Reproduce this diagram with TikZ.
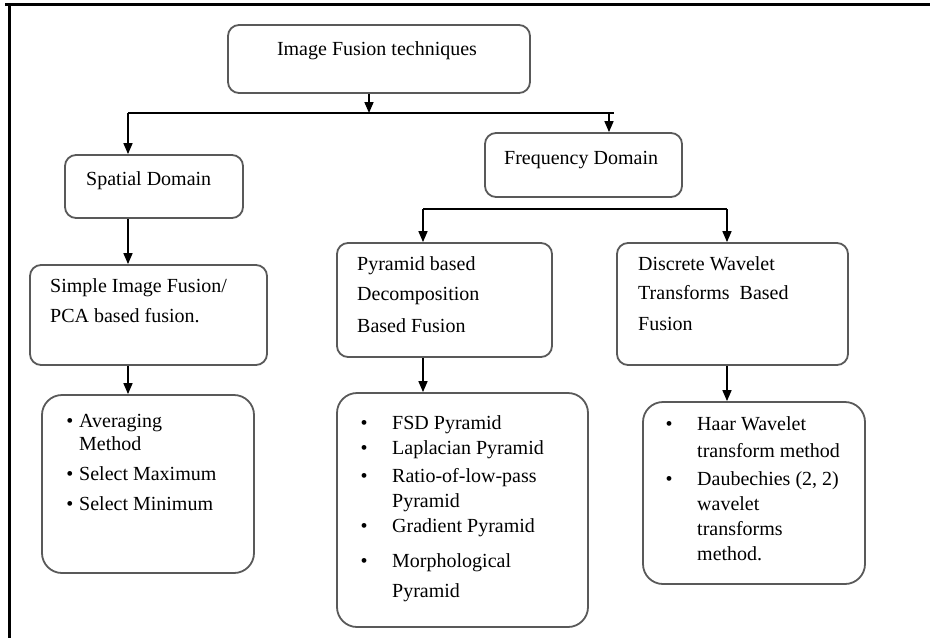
\documentclass[tikz,border=0pt]{standalone}
\usepackage{fontspec}
\setmainfont{Liberation Serif}
\usetikzlibrary{arrows.meta}
\begin{document}
\begin{tikzpicture}[x=1pt,y=-1pt,
  box/.style={draw=black!65, line width=1.8pt, rounded corners=11pt, inner sep=0pt},
  bigbox/.style={box, rounded corners=20pt},
  ln/.style={anchor=mid west, inner sep=0pt, font=\fontsize{20}{24}\selectfont},
  dot/.style={anchor=mid, inner sep=0pt, font=\fontsize{20}{24}\selectfont},
  conn/.style={draw=black, line width=1.6pt},
  arr/.style={conn, -{Triangle[length=11pt,width=9pt]}},
  frame/.style={line width=3pt}]
\useasboundingbox (0,0) rectangle (930,638);
% outer frame: top and left rules only
\draw[frame] (5,4) -- (930,4);
\draw[frame] (9,4) -- (9,638);

% boxes
\node[box, minimum width=302pt, minimum height=68pt] (top) at (379,59) {};
\node[box, minimum width=178pt, minimum height=63pt] (spatial) at (154,186.5) {};
\node[box, minimum width=197pt, minimum height=64pt] (freq) at (583.5,165) {};
\node[box, minimum width=237pt, minimum height=100pt] (simple) at (148.5,315) {};
\node[bigbox, minimum width=212pt, minimum height=178pt] (listA) at (148,484) {};
\node[box, minimum width=215pt, minimum height=114pt] (pyr) at (444.5,300) {};
\node[bigbox, minimum width=251pt, minimum height=234pt] (listB) at (462.5,510) {};
\node[box, minimum width=231pt, minimum height=122pt] (dwt) at (732.5,304) {};
\node[bigbox, minimum width=222pt, minimum height=182pt] (listC) at (754,493) {};

% box titles
\node[ln, anchor=mid] (tTop) at (377,53) {Image Fusion techniques};
\node[ln] (tSp) at (86,183) {Spatial Domain};
\node[ln] (tFr) at (504,162) {Frequency Domain};
\node[ln] (tSi1) at (50,290) {Simple Image Fusion/};
\node[ln] (tSi2) at (50,320) {PCA based fusion.};
\node[ln] (tPy1) at (357,268) {Pyramid based};
\node[ln] (tPy2) at (357,298) {Decomposition};
\node[ln] (tPy3) at (357,330) {Based Fusion};
\node[ln] (tDw1) at (638,268) {Discrete Wavelet};
\node[ln] (tDw2) at (638,297) {Transforms\ \ Based};
\node[ln] (tDw3) at (638,328) {Fusion};

% spatial-domain methods
\node[dot] (bA1) at (70,425) {•};
\node[ln] (iA1a) at (79,425) {Averaging};
\node[ln] (iA1b) at (79,448) {Method};
\node[dot] (bA2) at (70,478) {•};
\node[ln] (iA2) at (79,478) {Select Maximum};
\node[dot] (bA3) at (70,508) {•};
\node[ln] (iA3) at (79,508) {Select Minimum};

% pyramid methods
\node[dot] (bB1) at (364,427) {•};
\node[ln] (iB1) at (392,427) {FSD Pyramid};
\node[dot] (bB2) at (364,452) {•};
\node[ln] (iB2) at (392,452) {Laplacian Pyramid};
\node[dot] (bB3) at (364,480) {•};
\node[ln] (iB3a) at (392,480) {Ratio-of-low-pass};
\node[ln] (iB3b) at (392,505) {Pyramid};
\node[dot] (bB4) at (364,530) {•};
\node[ln] (iB4) at (392,530) {Gradient Pyramid};
\node[dot] (bB5) at (364,565) {•};
\node[ln] (iB5a) at (392,565) {Morphological};
\node[ln] (iB5b) at (392,595) {Pyramid};

% wavelet methods
\node[dot] (bC1) at (669,428) {•};
\node[ln] (iC1a) at (697,428) {Haar Wavelet};
\node[ln] (iC1b) at (697,455) {transform method};
\node[dot] (bC2) at (669,483) {•};
\node[ln] (iC2a) at (697,483) {Daubechies (2, 2)};
\node[ln] (iC2b) at (697,508) {wavelet};
\node[ln] (iC2c) at (697,533) {transforms};
\node[ln] (iC2d) at (697,558) {method.};

% junction points of the tree
\coordinate (j1) at (369,113);
\coordinate (jl) at (128,113);
\coordinate (jr) at (614,113);
\coordinate (jf) at (609,113);
\coordinate (k1) at (423,209);
\coordinate (k2) at (727,209);

% connectors
\draw[arr] (top.south -| j1) -- (j1);
\draw[conn] (jl) -- (jr);
\draw[arr] (jl) -- (spatial.north -| jl);
\draw[arr] (jf) -- (freq.north -| jf);
\draw[arr] (spatial.south -| jl) -- (simple.north -| jl);
\draw[arr] (simple.south -| jl) -- (listA.north -| jl);
\draw[conn] (k1) -- (k2);
\draw[arr] (k1) -- (pyr.north -| k1);
\draw[arr] (k2) -- (dwt.north -| k2);
\draw[arr] (pyr.south -| k1) -- (listB.north -| k1);
\draw[arr] (dwt.south -| k2) -- (listC.north -| k2);
\end{tikzpicture}
\end{document}
